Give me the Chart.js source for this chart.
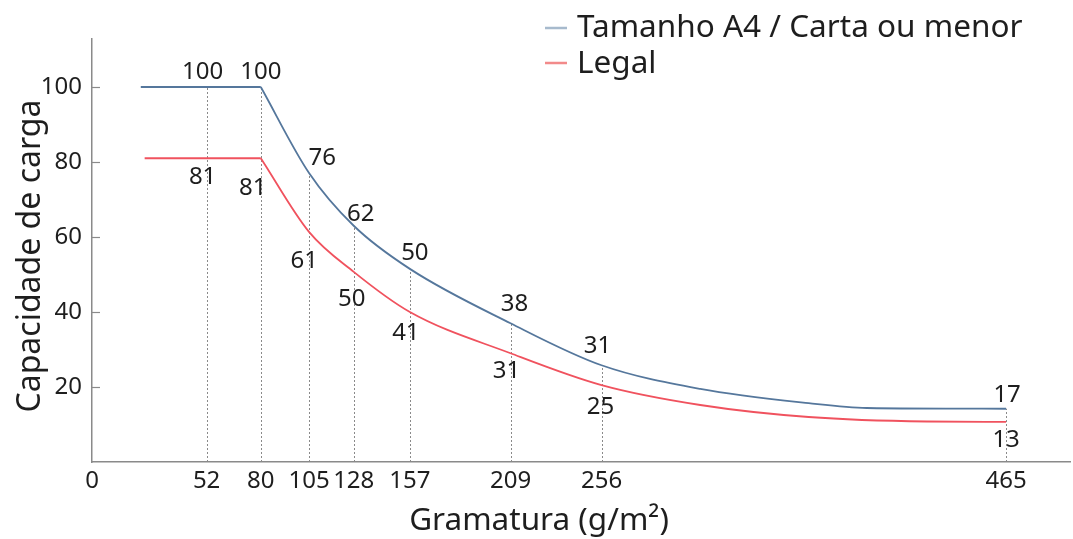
<!DOCTYPE html>
<html>
<head>
<meta charset="utf-8">
<script src="https://cdn.jsdelivr.net/npm/chart.js@4.4.1/dist/chart.umd.min.js"></script>
<style>
  html, body { margin: 0; padding: 0; background: #fff; }
</style>
</head>
<body>
<canvas id="chart" width="1073" height="539"></canvas>
<script>
// gramatura marks on the x axis and the capacity printed at each of them
const gramatura = [52, 80, 105, 128, 157, 209, 256, 465];
const rotuloA4 = [100, 100, 76, 62, 50, 38, 31, 17];
const rotuloLegal = [81, 81, 61, 50, 41, 31, 25, 13];

// curves as drawn
const a4X = [18, 52, 80, 105, 128, 157, 209, 256, 307, 363, 393, 465];
const a4Y = [100, 100, 100, 77, 63, 51.5, 37, 25.8, 19.5, 15.7, 14.4, 14.2];
const legalX = [20, 52, 80, 105, 128, 157, 209, 256, 307, 363, 424, 465];
const legalY = [81, 81, 81, 61.3, 50.7, 40, 29, 20.5, 15.2, 12, 10.8, 10.7];

const yTicks = [20, 40, 60, 80, 100];
const xMin = -7.2, xMax = 498, yMax = 112.8;

const nomeA4 = "Tamanho A4 / Carta ou menor";
const nomeLegal = "Legal";

const azul = "#55779c";
const vermelho = "#f0525e";
const fonte = "'Noto Sans', sans-serif";

// label offsets (pixels) from the curve point
const dxA4 = [-4, 0, 13, 7, 5, 4, -4, 1];
const dyA4 = [-15, -15, -15, -12, -16, -19, -19, -14];
const dxLegal = [-4, -8, -5, -2, -4, -4, -1, 0];
const dyLegal = [19, 30, 29, 27, 21, 18, 22, 18];

function pontos(xs, ys, de, ate) {
  const out = [];
  for (let i = 0; i < xs.length; i++) {
    if (xs[i] >= de && xs[i] <= ate) out.push({ x: xs[i], y: ys[i] });
  }
  return out;
}

const extras = {
  id: "extras",
  beforeDatasetsDraw(chart) {
    const { ctx, chartArea, scales: { x, y } } = chart;
    ctx.save();
    // dotted guides from the axis up to the A4 curve
    ctx.strokeStyle = "#8a8a8a";
    ctx.lineWidth = 1;
    ctx.setLineDash([2, 2]);
    gramatura.forEach((g) => {
      const i = a4X.indexOf(g);
      const px = Math.round(x.getPixelForValue(g)) + 0.5;
      ctx.beginPath();
      ctx.moveTo(px, chartArea.bottom);
      ctx.lineTo(px, y.getPixelForValue(a4Y[i]));
      ctx.stroke();
    });
    ctx.setLineDash([]);
    // small inner ticks on y axis
    ctx.lineWidth = 1.2;
    yTicks.forEach((v) => {
      const py = Math.round(y.getPixelForValue(v)) + 0.5;
      ctx.beginPath();
      ctx.moveTo(chartArea.left, py);
      ctx.lineTo(chartArea.left + 8, py);
      ctx.stroke();
    });
    ctx.restore();
  },
  afterDatasetsDraw(chart) {
    const { ctx, scales: { x, y } } = chart;
    ctx.save();
    ctx.fillStyle = "#1e1e1e";
    ctx.font = "24px " + fonte;
    ctx.textAlign = "center";
    ctx.textBaseline = "middle";
    gramatura.forEach((g, k) => {
      const px = x.getPixelForValue(g);
      const ia = a4X.indexOf(g);
      const il = legalX.indexOf(g);
      ctx.fillText(String(rotuloA4[k]), px + dxA4[k], y.getPixelForValue(a4Y[ia]) + dyA4[k]);
      ctx.fillText(String(rotuloLegal[k]), px + dxLegal[k], y.getPixelForValue(legalY[il]) + dyLegal[k]);
    });

    // legend
    ctx.font = "31.5px " + fonte;
    ctx.textAlign = "left";
    ctx.lineWidth = 2.5;
    ctx.strokeStyle = "#a7bacd";
    ctx.beginPath(); ctx.moveTo(545, 28); ctx.lineTo(567, 28); ctx.stroke();
    ctx.fillText(nomeA4, 577, 28);
    ctx.strokeStyle = "#f28a8a";
    ctx.beginPath(); ctx.moveTo(545, 63); ctx.lineTo(567, 63); ctx.stroke();
    ctx.fillText(nomeLegal, 577, 64);

    // axis titles
    ctx.textAlign = "center";
    ctx.font = "31.5px " + fonte;
    ctx.fillText("Gramatura (g/m\u00b2)", 539, 521);
    ctx.translate(31, 256);
    ctx.rotate(-Math.PI / 2);
    ctx.font = "32px " + fonte;
    ctx.fillText("Capacidade de carga", 0, 0);
    ctx.restore();
  }
};

const ctx = document.getElementById("chart").getContext("2d");
const linha = { pointRadius: 0, borderWidth: 1.8, fill: false };

new Chart(ctx, {
  type: "line",
  data: {
    datasets: [
      Object.assign({ label: nomeA4, data: pontos(a4X, a4Y, 0, 80), borderColor: azul, tension: 0 }, linha),
      Object.assign({ label: nomeA4, data: pontos(a4X, a4Y, 80, 999), borderColor: azul, cubicInterpolationMode: "monotone" }, linha),
      Object.assign({ label: nomeLegal, data: pontos(legalX, legalY, 0, 80), borderColor: vermelho, tension: 0 }, linha),
      Object.assign({ label: nomeLegal, data: pontos(legalX, legalY, 80, 999), borderColor: vermelho, cubicInterpolationMode: "monotone" }, linha)
    ]
  },
  options: {
    responsive: false,
    animation: false,
    devicePixelRatio: 1,
    layout: { padding: { top: 39, right: 3, left: 0, bottom: 0 } },
    plugins: { legend: { display: false }, tooltip: { enabled: false } },
    scales: {
      x: {
        type: "linear",
        min: xMin,
        max: xMax,
        afterFit: (s) => { s.height = 77; },
        afterBuildTicks: (s) => {
          s.ticks = [{ value: xMin }].concat(gramatura.map((v) => ({ value: v })));
        },
        ticks: {
          autoSkip: false,
          maxRotation: 0,
          padding: 5,
          color: "#1e1e1e",
          font: { family: fonte, size: 24 },
          callback: (v) => (v === xMin ? "0" : String(v))
        },
        grid: { drawOnChartArea: false, drawTicks: false },
        border: { color: "#8a8a8a", width: 1.5 }
      },
      y: {
        min: 0,
        max: yMax,
        afterFit: (s) => { s.width = 92; },
        afterBuildTicks: (s) => {
          s.ticks = yTicks.map((v) => ({ value: v }));
        },
        ticks: {
          padding: 10,
          color: "#1e1e1e",
          font: { family: fonte, size: 24 }
        },
        grid: { drawOnChartArea: false, drawTicks: false },
        border: { color: "#8a8a8a", width: 1.5 }
      }
    }
  },
  plugins: [extras]
});
</script>
</body>
</html>
